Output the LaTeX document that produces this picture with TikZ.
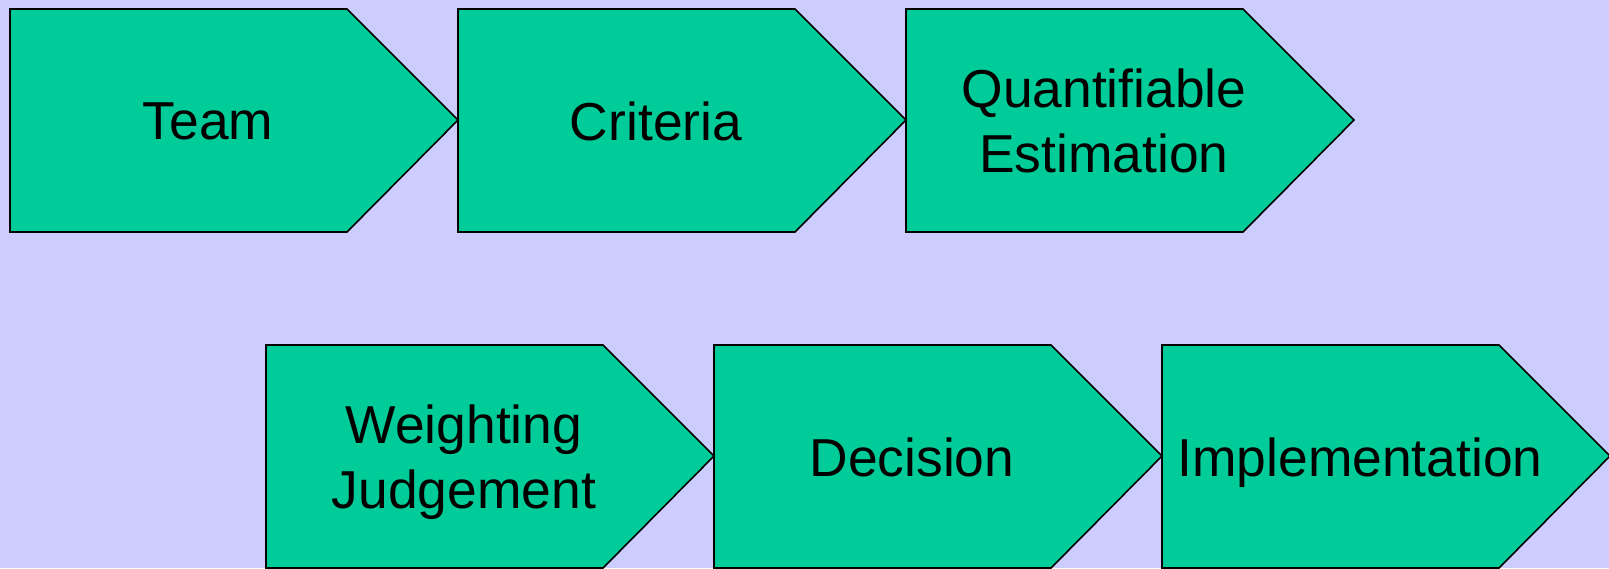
\documentclass[tikz,border=0pt]{standalone}
\usepackage{fontspec}
\setmainfont{Liberation Sans}

\definecolor{bgblue}{HTML}{CCCCFF}
\definecolor{stagegreen}{HTML}{00CC99}

\tikzset{
  stage/.style={fill=stagegreen, draw=black, line width=0.8pt, line join=miter},
  stagetext/.style={font=\fontsize{26.7}{32.5}\selectfont, align=center, text=black, inner sep=0pt, text depth=0pt},
}

\begin{document}
\begin{tikzpicture}[x=0.5pt, y=-0.5pt]
  \useasboundingbox (0,0) rectangle (1609,568);
  \fill[bgblue] (0,0) rectangle (1609,568);

  % the six stages, two rows
  \foreach \x/\y/\n/\t in {10/9/team/Team, 458/9/crit/Criteria, 906/9/quant/{Quantifiable\\Estimation},
      266/345/weight/{Weighting\\Judgement}, 714/345/decis/Decision, 1162/345/impl/Implementation} {
    \draw[stage] (\x,\y) -- ++(337,0) -- ++(111,111) -- ++(-111,112) -- ++(-337,0) -- cycle;
    \node[stagetext] (\n) at (\x+198,\y+112) {\t};
  }
\end{tikzpicture}
\end{document}
